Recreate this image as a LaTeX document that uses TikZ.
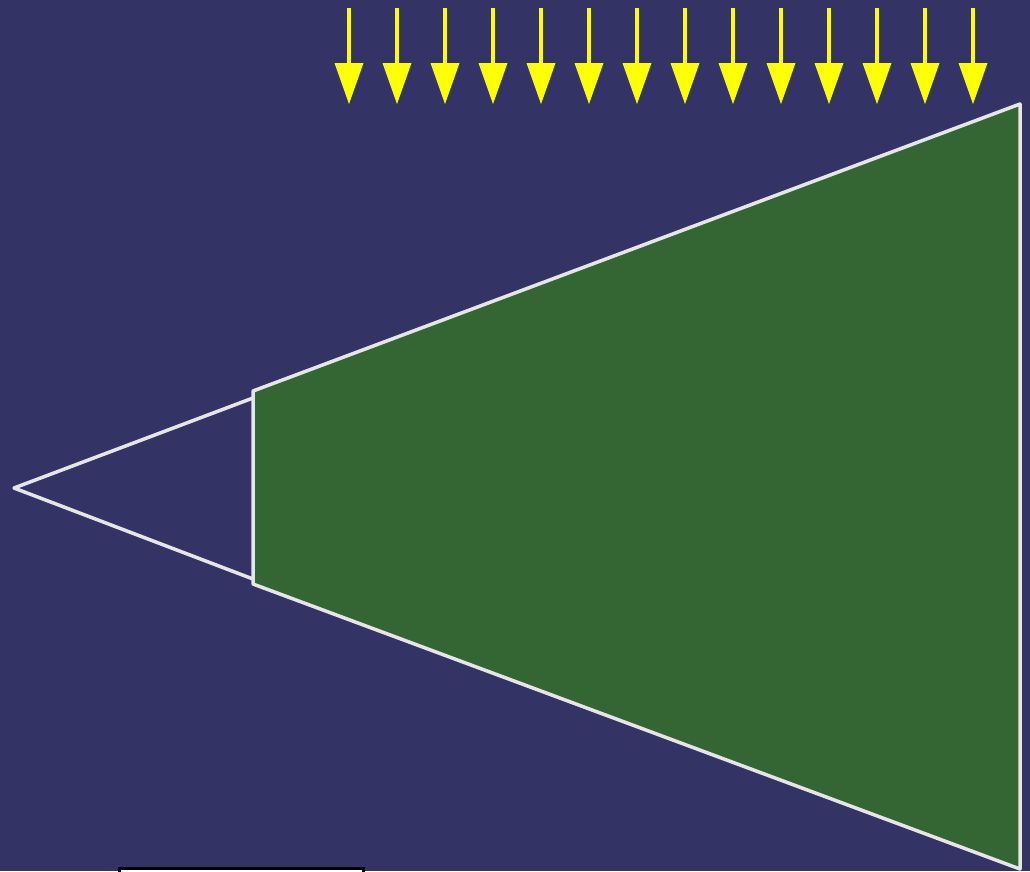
\documentclass[tikz,border=0pt]{standalone}
\usetikzlibrary{arrows.meta}
\definecolor{bgblue}{HTML}{333366}
\definecolor{conegreen}{HTML}{336633}
\definecolor{edgewhite}{HTML}{E6E6E6}
\definecolor{rayyellow}{HTML}{FFFF00}
\begin{document}
\begin{tikzpicture}[x=1pt,y=-1pt,
  edge/.style={draw=edgewhite,line width=3.5pt,line join=round},
  ray/.style={draw=rayyellow,line width=4pt,-{Triangle[length=41pt,width=29pt,line width=0pt]},fill=rayyellow}]
\fill[bgblue] (0,0) rectangle (1030,871);
\useasboundingbox (0,0) rectangle (1030,871);
% small cone
\coordinate (apex) at (14,488);
\coordinate (ut) at (253,398);
\coordinate (lt) at (253,579);
\draw[edge] (ut) -- (apex) -- (lt);
% frustum
\coordinate (a) at (253,391);
\coordinate (b) at (1020,104);
\coordinate (c) at (1020,869);
\coordinate (d) at (253,584);
\filldraw[edge,fill=conegreen] (a) -- (b) -- (c) -- (d) -- cycle;
% rays
\foreach \i in {0,...,13}{
  \coordinate (s\i) at (349+48*\i,8);
  \coordinate (e\i) at (349+48*\i,104);
  \draw[ray] (s\i) -- (e\i);
}
% box at bottom
\coordinate (r1) at (119,868);
\coordinate (r2) at (363,880);
\draw[black,line width=3pt,fill=white] (r1) rectangle (r2);
\end{tikzpicture}
\end{document}
